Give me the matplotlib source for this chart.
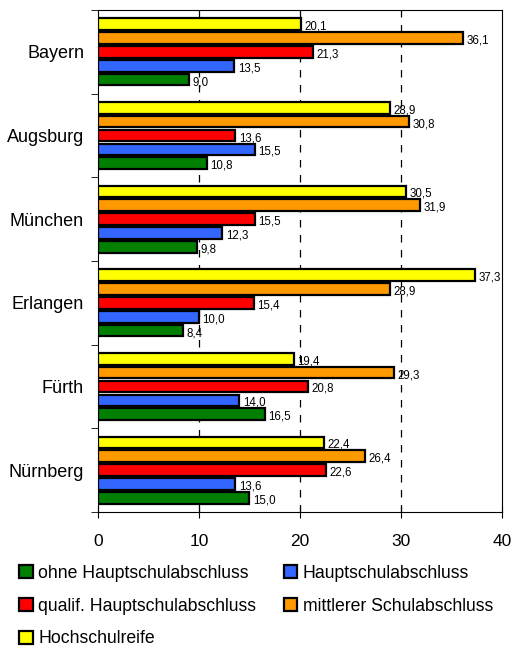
import numpy as np
import matplotlib.pyplot as plt
from matplotlib.patches import Patch

plt.rcParams['font.family'] = ['Liberation Sans', 'DejaVu Sans']

# data (top to bottom as drawn)
cities = ['Bayern', 'Augsburg', 'München', 'Erlangen', 'Fürth', 'Nürnberg']
hochschulreife = [20.1, 28.9, 30.5, 37.3, 19.4, 22.4]
mittlerer = [36.1, 30.8, 31.9, 28.9, 29.3, 26.4]
qualif = [21.3, 13.6, 15.5, 15.4, 20.8, 22.6]
hauptschul = [13.5, 15.5, 12.3, 10.0, 14.0, 13.6]
ohne = [9.0, 10.8, 9.8, 8.4, 16.5, 15.0]

series = [
    ('Hochschulreife', hochschulreife, '#FFFF00'),
    ('mittlerer Schulabschluss', mittlerer, '#FF9900'),
    ('qualif. Hauptschulabschluss', qualif, '#FF0000'),
    ('Hauptschulabschluss', hauptschul, '#3366FF'),
    ('ohne Hauptschulabschluss', ohne, '#007F00'),
]

fig = plt.figure(figsize=(5.13, 6.47), dpi=100)
ax = fig.add_axes([0.191, 0.2087, 0.7876, 0.7758])

centers = np.arange(len(cities))
step = 0.166
handles = {}
for k, (name, vals, col) in enumerate(series):
    y = centers + (k - 2) * step
    ax.barh(y, vals, height=0.14, color=col, edgecolor='black', linewidth=1.6, zorder=3)
    handles[name] = Patch(facecolor=col, edgecolor='black', linewidth=1.6)
    for yy, v in zip(y, vals):
        ax.text(v + 0.35, yy + 0.03, f'{v:.1f}'.replace('.', ','), fontsize=8.3,
                va='center', ha='left', zorder=4)

ax.set_xlim(0, 40)
ax.set_ylim(len(cities) - 0.5, -0.5)
ax.set_xticks([0, 10, 20, 30, 40])
ax.tick_params(axis='x', direction='inout', length=8, labelsize=12.5, pad=12)
ax.set_yticks(centers)
ax.set_yticklabels(cities, fontsize=13)
ax.tick_params(axis='y', which='major', length=0, pad=10)
ax.set_yticks(np.arange(len(cities) + 1) - 0.5, minor=True)
ax.tick_params(axis='y', which='minor', length=5, direction='out')
for x in [10, 20, 30]:
    ax.axvline(x, color='black', linestyle=(0, (6, 6)), linewidth=0.9, zorder=1)
for s in ax.spines.values():
    s.set_linewidth(0.8)

order = ['ohne Hauptschulabschluss', 'qualif. Hauptschulabschluss', 'Hochschulreife',
         'Hauptschulabschluss', 'mittlerer Schulabschluss']
fig.legend([handles[n] for n in order], order, ncol=2, loc='upper left',
           bbox_to_anchor=(0.038, 0.127), frameon=False, fontsize=12.7,
           handlelength=0.75, handleheight=0.75, handletextpad=0.3,
           columnspacing=1.6, labelspacing=0.89, borderaxespad=0, borderpad=0)

fig.savefig('out.png', dpi=100)
